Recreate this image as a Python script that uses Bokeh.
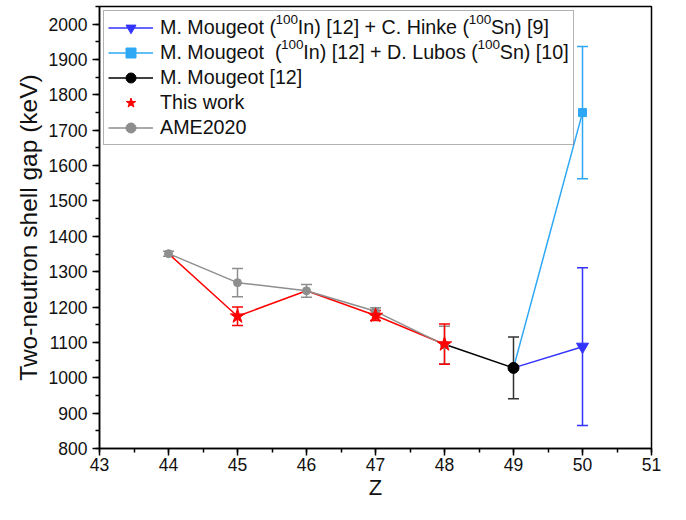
from bokeh.plotting import figure
from bokeh.models import (ColumnDataSource, Whisker, TeeHead, Legend, LegendItem,
                          SingleIntervalTicker, Range1d)
from bokeh.core.properties import value
from bokeh.embed import file_html
from bokeh.resources import INLINE

# ---------------- data ----------------
# AME2020
ame_z = [44, 45, 46, 47, 48]
ame_v = [1351, 1269, 1246, 1188, 1093]
ame_err = [7, 40, 18, 10, 53]

# red connecting line (this work + AME at 44, 46)
red_line_z = [44, 45, 46, 47, 48]
red_line_v = [1351, 1174, 1246, 1176, 1095]

# This work
this_z = [45, 47, 48]
this_v = [1174, 1176, 1095]
this_err = [26, 14, 57]

# M. Mougeot [12]
mou_line_z = [48, 49]
mou_line_v = [1095, 1028]
mou_z = [49]
mou_v = [1028]
mou_err = [87]

# M. Mougeot (100In) + C. Hinke (100Sn)
hinke_z = [49, 50]
hinke_v = [1028, 1088]
hinke_pt_z = [50]
hinke_pt_v = [1088]
hinke_err = [223]

# M. Mougeot (100In) + D. Lubos (100Sn)
lubos_z = [49, 50]
lubos_v = [1028, 1750]
lubos_pt_z = [50]
lubos_pt_v = [1750]
lubos_err = [187]

x_ticks_interval = 1
y_ticks_interval = 100
X0, X1, Y0, Y1 = 43, 51, 800, 2050

NB = "\u00a0\u00a0\u00a0\u00a0"   # room for superscript "100"
SUP = "100"
leg1 = ["M. Mougeot (", "In) [12] + C. Hinke (", "Sn) [9]"]
leg2 = ["M. Mougeot \u00a0(", "In) [12] + D. Lubos (", "Sn) [10]"]
leg3 = "M. Mougeot [12]"
leg4 = "This work"
leg5 = "AME2020"

BLUE = "#3333FF"
LBLUE = "#2EA8F4"
GRAY = "#8E8E8E"
RED = "#FF0000"
BLACK = "#000000"
FONT = "Liberation Sans"

W, H = 670, 504
TOP, BOTTOM, LEFT, RIGHT = 6, 56, 99, 19
LEG_FS = 19.7
SUP_FS = 13.5
SUP_RAISE = 8   # px above row centre for superscript baseline

p = figure(width=W, height=H, output_backend="svg", toolbar_location=None,
           x_range=Range1d(X0, X1), y_range=Range1d(Y0, Y1),
           min_border_left=LEFT, min_border_right=RIGHT, min_border_top=TOP,
           min_border_bottom=BOTTOM)
p.grid.visible = False
p.outline_line_color = "black"
p.outline_line_width = 1.5
p.outline_line_alpha = 1.0
p.background_fill_color = "white"
p.border_fill_color = "white"


def err_src(z, v, e):
    return ColumnDataSource(dict(z=z, v=v, up=[a + b for a, b in zip(v, e)],
                                 lo=[a - b for a, b in zip(v, e)]))


def whisk(src, color, w=1.5):
    wk = Whisker(source=src, base="z", upper="up", lower="lo", dimension="height",
                 line_color=color, line_width=w,
                 upper_head=TeeHead(size=11, line_color=color, line_width=w),
                 lower_head=TeeHead(size=11, line_color=color, line_width=w))
    p.add_layout(wk)


# lines
r_red_line = p.line(red_line_z, red_line_v, line_color=RED, line_width=1.5)
r_mou_line = p.line(mou_line_z, mou_line_v, line_color=BLACK, line_width=1.5)
r_hinke_line = p.line(hinke_z, hinke_v, line_color=BLUE, line_width=1.5)
r_lubos_line = p.line(lubos_z, lubos_v, line_color=LBLUE, line_width=1.5)
r_ame_line = p.line(ame_z, ame_v, line_color=GRAY, line_width=1.5)

# AME
s_ame = err_src(ame_z, ame_v, ame_err)
whisk(s_ame, GRAY)
r_ame_pt = p.scatter("z", "v", source=s_ame, marker="circle", size=8,
                     fill_color=GRAY, line_color=GRAY)

# This work
s_this = err_src(this_z, this_v, this_err)
whisk(s_this, RED)
r_this_pt = p.scatter("z", "v", source=s_this, marker="star", size=15,
                      fill_color=RED, line_color=RED)

# Mougeot
s_mou = err_src(mou_z, mou_v, mou_err)
whisk(s_mou, "#333333")
r_mou_pt = p.scatter("z", "v", source=s_mou, marker="circle", size=11,
                     fill_color=BLACK, line_color=BLACK)

# Hinke
s_hinke = err_src(hinke_pt_z, hinke_pt_v, hinke_err)
whisk(s_hinke, BLUE)
r_hinke_pt = p.scatter("z", "v", source=s_hinke, marker="inverted_triangle", size=12,
                       fill_color=BLUE, line_color=BLUE)

# Lubos
s_lubos = err_src(lubos_pt_z, lubos_pt_v, lubos_err)
whisk(s_lubos, LBLUE)
r_lubos_pt = p.scatter("z", "v", source=s_lubos, marker="square", size=8,
                       fill_color=LBLUE, line_color=LBLUE)

# axes
for ax in (p.xaxis[0], p.yaxis[0]):
    ax.axis_line_width = 1.5
    ax.major_tick_line_width = 1.5
    ax.minor_tick_line_width = 1.5
    ax.major_tick_in = 0
    ax.major_tick_out = 7
    ax.minor_tick_in = 0
    ax.minor_tick_out = 4
    ax.major_label_text_font = FONT
    ax.major_label_text_font_size = "17.5px"
    ax.major_label_text_color = "#111111"
    ax.axis_label_text_font = FONT
    ax.axis_label_text_font_style = "normal"
    ax.axis_label_text_color = "#111111"

p.xaxis.ticker = SingleIntervalTicker(interval=x_ticks_interval, num_minor_ticks=2)
p.yaxis.ticker = SingleIntervalTicker(interval=y_ticks_interval, num_minor_ticks=2)
p.xaxis.axis_label = "Z"
p.yaxis.axis_label = "Two-neutron shell gap (keV)"
p.xaxis.axis_label_text_font_size = "22px"
p.yaxis.axis_label_text_font_size = "24.5px"
p.xaxis.major_label_standoff = 2
p.yaxis.major_label_standoff = 5
p.xaxis.axis_label_standoff = 1
p.yaxis.axis_label_standoff = 4

label1 = leg1[0] + NB + leg1[1] + NB + leg1[2]
label2 = leg2[0] + NB + leg2[1] + NB + leg2[2]

MARGIN, PAD, GLYPH_W, STANDOFF, ROW_H = 4, 4, 45, 7, 25

# --- superscripts "100" placed in the gaps (Arial/Liberation metrics) ---
AW = {"M": 833, ".": 278, " ": 278, "\u00a0": 278, "o": 556, "u": 556, "g": 556,
      "e": 556, "t": 278, "(": 333, ")": 333, "I": 278, "n": 556, "[": 278,
      "]": 278, "1": 556, "2": 556, "+": 584, "C": 722, "H": 722, "i": 222,
      "k": 500, "D": 722, "L": 556, "b": 556, "s": 500, "S": 667}


def tw(s, fs):
    return sum(AW.get(c, 556) for c in s) * fs / 1000.0


frame_w = W - LEFT - RIGHT
frame_h = H - TOP - BOTTOM
text_x0 = MARGIN + PAD + GLYPH_W + STANDOFF   # px from frame left
sx, sy, st = [], [], []
for row, parts in enumerate([leg1, leg2]):
    cy = MARGIN + PAD + ROW_H * row + ROW_H / 2.0   # px from frame top
    y_d = Y1 - (cy - SUP_RAISE) / frame_h * (Y1 - Y0)
    x1 = text_x0 + tw(parts[0], LEG_FS)
    x2 = x1 + tw(NB + parts[1], LEG_FS)
    for xx in (x1, x2):
        sx.append(X0 + xx / frame_w * (X1 - X0))
        sy.append(y_d)
        st.append(SUP)
p.text(x=sx, y=sy, text=st, text_font=value(FONT),
       text_font_size=f"{SUP_FS}px", text_color="#111111",
       text_baseline="alphabetic", text_align="left")

legend = Legend(items=[
    LegendItem(label=label1, renderers=[r_hinke_line, r_hinke_pt]),
    LegendItem(label=label2, renderers=[r_lubos_line, r_lubos_pt]),
    LegendItem(label=leg3, renderers=[r_mou_line, r_mou_pt]),
    LegendItem(label=leg4, renderers=[r_this_pt]),
    LegendItem(label=leg5, renderers=[r_ame_line, r_ame_pt]),
], location="top_left")
legend.margin = MARGIN
legend.padding = PAD
legend.spacing = 0
legend.glyph_width = GLYPH_W
legend.glyph_height = ROW_H
legend.label_height = ROW_H
legend.label_standoff = STANDOFF
legend.label_text_font = FONT
legend.label_text_font_size = f"{LEG_FS}px"
legend.label_text_color = "#111111"
legend.border_line_color = "#666666"
legend.border_line_width = 1
legend.background_fill_alpha = 0.0   # nothing lies beneath; lets superscripts show
p.add_layout(legend)

open("out.html", "w").write(file_html(p, INLINE))
